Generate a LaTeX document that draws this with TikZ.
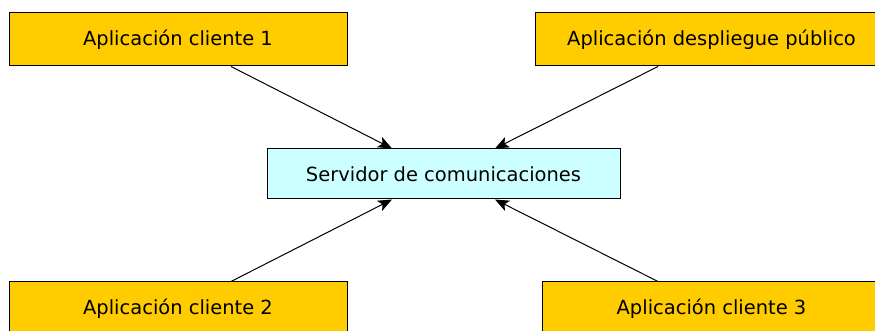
\documentclass[tikz,border=0pt]{standalone}
\usepackage{fontspec}
\setmainfont{DejaVu Sans}
\usetikzlibrary{arrows.meta, positioning}

\definecolor{appyellow}{HTML}{FFCC00}
\definecolor{srvcyan}{HTML}{CCFFFF}

\tikzset{
  app/.style={draw, fill=appyellow, line width=0.75pt, inner sep=0pt,
    minimum width=253.5pt, minimum height=39.75pt,
    font=\fontsize{14.6}{17}\selectfont},
  srv/.style={app, fill=srvcyan, minimum width=264.75pt, minimum height=37.5pt},
  link/.style={line width=0.75pt, -{Stealth[length=10.5pt, width=8.5pt, inset=2.5pt]}}
}

\begin{document}
\begin{tikzpicture}[x=0.75pt, y=-0.75pt]
    % Background
    \useasboundingbox (0,0) rectangle (875,331);

    \node[srv] (server) at (443.5, 174) {Servidor de comunicaciones};

    \node[app] (client1) at (178, 39.5) {Aplicación cliente 1};
    \node[app, minimum width=264.75pt] (deploy) at (711.5, 39.5) {Aplicación despliegue público};
    \node[app] (client2) at (178, 308.5) {Aplicación cliente 2};
    \node[app] (client3) at (711.5, 308.5) {Aplicación cliente 3};

    \draw[link] ([xshift=39.75pt]client1.south) -- ([xshift=-38.6pt]server.north);
    \draw[link] ([xshift=-40.1pt]deploy.south) -- ([xshift=38.6pt]server.north);
    \draw[link] ([xshift=39.75pt]client2.north) -- ([xshift=-38.6pt]server.south);
    \draw[link] ([xshift=-40.1pt]client3.north) -- ([xshift=38.6pt]server.south);

\end{tikzpicture}
\end{document}
